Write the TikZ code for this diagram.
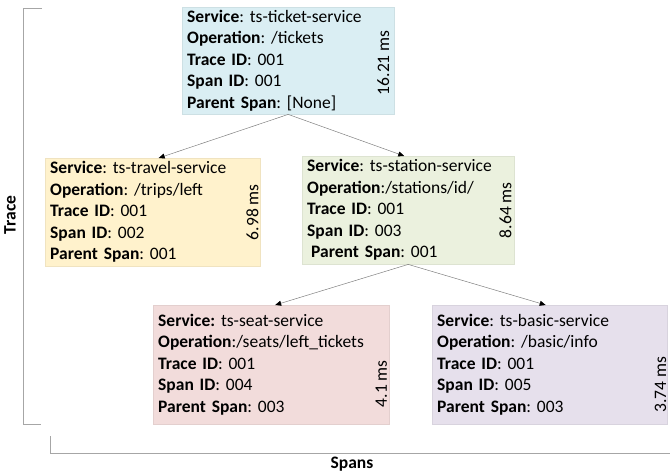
\documentclass[tikz,border=0pt]{standalone}
\usepackage{fontspec}
\setmainfont{Carlito}
\usetikzlibrary{arrows.meta}
\definecolor{ticketblue}{HTML}{DAEEF3}
\definecolor{travelgold}{HTML}{FFF2CC}
\definecolor{stationgreen}{HTML}{EBF1DE}
\definecolor{seatred}{HTML}{F2DCDB}
\definecolor{basicviolet}{HTML}{E6E0EC}
\definecolor{bracketgray}{HTML}{A6A6A6}
\frenchspacing
\begin{document}
\begin{tikzpicture}[x=1pt,y=-1pt,
    spanbox/.style={draw=#1!94!black,fill=#1,line width=0.4pt,anchor=north west,
        inner xsep=5pt,inner ysep=0pt,align=left,font=\fontsize{17.5}{21.5}\selectfont},
    dur/.style={rotate=90,inner sep=0pt,font=\fontsize{17.5}{21.5}\selectfont},
    call/.style={draw=gray,line width=0.5pt,-{Triangle[length=6pt,width=5pt,color=black]}},
    lbl/.style={font=\fontsize{17.5}{21.5}\selectfont\bfseries}]
    \useasboundingbox (0,0) rectangle (670,474);
    %% spans
    \node[spanbox=ticketblue,text width=202pt,minimum height=107pt] (ticket) at (182,7)
        {\textbf{Service}: ts-ticket-service\\\textbf{Operation}: /tickets\\\textbf{Trace ID}: 001\\\textbf{Span ID}: 001\\\textbf{Parent Span}: [None]};
    \node[spanbox=travelgold,text width=205pt,minimum height=108pt] (travel) at (45,158)
        {\textbf{Service}: ts-travel-service\\\textbf{Operation}: /trips/left\\\textbf{Trace ID}: 001\\\textbf{Span ID}: 002\\\textbf{Parent Span}: 001};
    \node[spanbox=stationgreen,text width=202pt,minimum height=108pt] (station) at (302,156)
        {\textbf{Service}: ts-station-service\\\textbf{Operation}:/stations/id/\\\textbf{Trace ID}: 001\\\textbf{Span ID}: 003\\\hspace{4pt}\textbf{Parent Span}: 001};
    \node[spanbox=seatred,text width=226pt,minimum height=119pt] (seat) at (153,305)
        {\textbf{Service:} ts-seat-service\\\textbf{Operation}:/seats/left\_tickets\\\textbf{Trace ID}: 001\\\textbf{Span ID}: 004\\\textbf{Parent Span}: 003};
    \node[spanbox=basicviolet,text width=225pt,minimum height=119pt] (basic) at (432,305)
        {\textbf{Service}: ts-basic-service\\\textbf{Operation}: /basic/info\\\textbf{Trace ID}: 001\\\textbf{Span ID}: 005\\\textbf{Parent Span}: 003};
    %% durations
    \node[dur] (tdur) at ([xshift=-11pt,yshift=-2pt]ticket.east) {16.21 ms};
    \node[dur] (trdur) at ([xshift=-8pt]travel.east) {6.98 ms};
    \node[dur] (stdur) at ([xshift=-9pt]station.east) {8.64 ms};
    \node[dur] (sedur) at ([xshift=-8pt,yshift=-19pt]seat.east) {4.1 ms};
    \node[dur] (badur) at ([xshift=-7pt,yshift=-20pt]basic.east) {3.74 ms};
    %% calls
    \draw[call] (ticket.south) -- ([xshift=6pt]travel.north);
    \draw[call] (ticket.south) -- ([xshift=-4pt]station.north);
    \draw[call] (station.south) -- ([xshift=4pt]seat.north);
    \draw[call] (station.south) -- ([xshift=-4pt]basic.north);
    %% brackets
    \draw[bracketgray,line width=0.6pt] (42,8) -- (23,8) -- (23,424) -- (41,424);
    \draw[bracketgray,line width=0.6pt] (50,436) -- (50,453) -- (670,453);
    \node[lbl,rotate=90] (trace) at (10,215) {Trace};
    \node[lbl] (spans) at (352,464) {Spans};
\end{tikzpicture}
\end{document}
